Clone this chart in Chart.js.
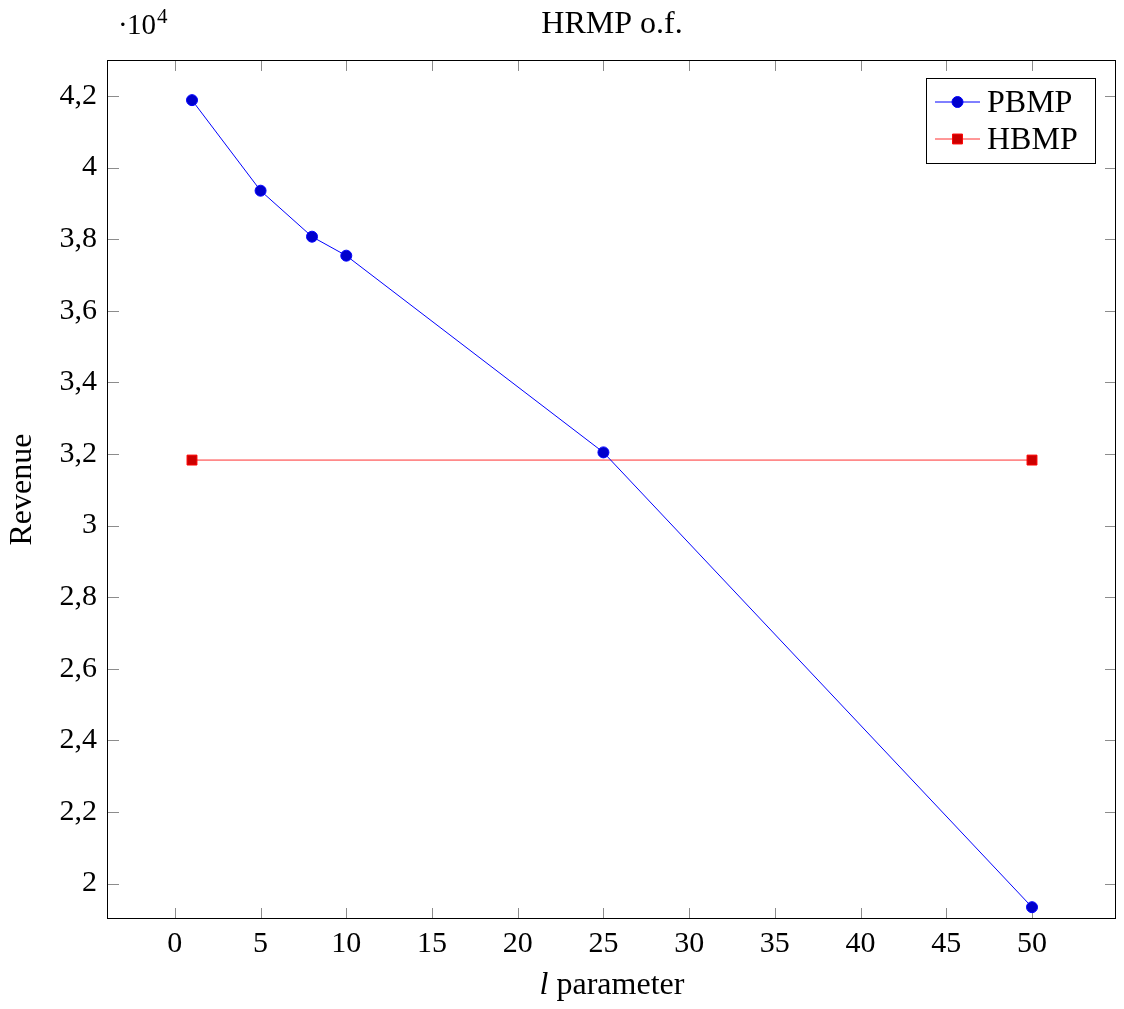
<!DOCTYPE html>
<html><head><meta charset="utf-8">
<script src="https://cdn.jsdelivr.net/npm/chart.js@4.4.1/dist/chart.umd.min.js"></script>
<style>html,body{margin:0;padding:0;background:#fff;overflow:hidden;} #wrap{width:1124px;height:1009px;position:relative;overflow:hidden;} canvas{display:block;}</style>
</head><body><div id="wrap"><canvas id="c"></canvas></div>
<script>
// ---- data ----
const lValues = [1, 5, 8, 10, 25, 50];
const pbmpRevenue = [41885, 39355, 38070, 37540, 32045, 19340];
const hbmpL = [1, 50];
const hbmpRevenue = [31830, 31830];
const xTickValues = [0, 5, 10, 15, 20, 25, 30, 35, 40, 45, 50];
const yTickValues = [20000, 22000, 24000, 26000, 28000, 30000, 32000, 34000, 36000, 38000, 40000, 42000];
const seriesNames = ['PBMP', 'HBMP'];
const chartTitle = 'HRMP o.f.';
const xTitleItalic = 'l';
const xTitleRest = ' parameter';
const yTitle = 'Revenue';
const multiplierBase = '10';
const multiplierExp = '4';

const SERIF = "'Liberation Serif', 'Times New Roman', serif";
Chart.defaults.font.family = SERIF;
Chart.defaults.color = '#000';

const fmtY = v => String(Number((v / 1e4).toFixed(1))).replace('.', ',');

const frameAndTicks = {
  id: 'frameAndTicks',
  beforeDatasetsDraw(chart) {
    const {ctx, chartArea: a, scales} = chart;
    const tl = 11;
    ctx.save();
    ctx.strokeStyle = '#8c8c8c';
    ctx.lineWidth = 1;
    ctx.beginPath();
    xTickValues.forEach(v => {
      const px = Math.round(scales.x.getPixelForValue(v)) + 0.5;
      ctx.moveTo(px, a.bottom); ctx.lineTo(px, a.bottom - tl);
      ctx.moveTo(px, a.top); ctx.lineTo(px, a.top + tl);
    });
    yTickValues.forEach(v => {
      const py = Math.round(scales.y.getPixelForValue(v)) + 0.5;
      ctx.moveTo(a.left, py); ctx.lineTo(a.left + tl, py);
      ctx.moveTo(a.right, py); ctx.lineTo(a.right - tl, py);
    });
    ctx.stroke();
    ctx.strokeStyle = '#000';
    ctx.strokeRect(a.left - 0.5, a.top + 0.5, a.width, a.height - 1);
    ctx.restore();
  },
  afterDraw(chart) {
    const {ctx, chartArea: a} = chart;
    ctx.save();
    ctx.fillStyle = '#000';
    ctx.textBaseline = 'alphabetic';
    // multiplier
    ctx.font = '29px ' + SERIF;
    ctx.textAlign = 'left';
    ctx.fillText('\u00B7', a.left + 10, 34);
    ctx.fillText(multiplierBase, a.left + 19, 34);
    ctx.font = '21px ' + SERIF;
    ctx.fillText(multiplierExp, a.left + 49, 23);
    // x title
    ctx.font = 'italic 32px ' + SERIF;
    const w1 = ctx.measureText(xTitleItalic).width;
    ctx.font = '32px ' + SERIF;
    const w2 = ctx.measureText(xTitleRest).width;
    const cx = (a.left + a.right) / 2;
    let x0 = cx - (w1 + w2) / 2;
    ctx.font = 'italic 32px ' + SERIF;
    ctx.fillText(xTitleItalic, x0, 994);
    ctx.font = '32px ' + SERIF;
    ctx.fillText(xTitleRest, x0 + w1, 994);
    // legend
    const ds = chart.data.datasets;
    const bx1 = a.right - 21, by0 = a.top + 18;
    const bw = 169, bh = 85;
    ctx.fillStyle = '#fff';
    ctx.fillRect(bx1 - bw, by0, bw, bh);
    ctx.strokeStyle = '#000';
    ctx.lineWidth = 1;
    ctx.strokeRect(Math.round(bx1 - bw) + 0.5, Math.round(by0) + 0.5, bw, bh);
    const rows = [{y: by0 + 24, base: by0 + 34}, {y: by0 + 61, base: by0 + 71}];
    ds.forEach((d, i) => {
      const r = rows[i];
      const lx0 = bx1 - bw + 9, lx1 = bx1 - bw + 54, mx = (lx0 + lx1) / 2;
      ctx.strokeStyle = d.borderColor;
      ctx.lineWidth = 1;
      ctx.beginPath(); ctx.moveTo(lx0, r.y); ctx.lineTo(lx1, r.y); ctx.stroke();
      ctx.fillStyle = d.pointBackgroundColor;
      ctx.strokeStyle = d.pointBorderColor;
      ctx.beginPath();
      if (d.pointStyle === 'rect') {
        const s = d.pointRadius * Math.SQRT1_2;
        ctx.rect(mx - s, r.y - s, 2 * s, 2 * s);
      } else {
        ctx.arc(mx, r.y, d.pointRadius, 0, Math.PI * 2);
      }
      ctx.fill(); ctx.stroke();
      ctx.fillStyle = '#000';
      ctx.font = '32px ' + SERIF;
      ctx.fillText(d.label, bx1 - bw + 61, r.base);
    });
    ctx.restore();
  }
};

new Chart(document.getElementById('c'), {
  type: 'scatter',
  data: {
    datasets: [
      {
        label: seriesNames[0],
        data: lValues.map((l, i) => ({x: l, y: pbmpRevenue[i]})),
        showLine: true,
        borderColor: '#0000ff',
        borderWidth: 1,
        pointStyle: 'circle',
        pointRadius: 5.5,
        pointBackgroundColor: '#0000cc',
        pointBorderColor: '#0000ff',
        pointBorderWidth: 1,
        tension: 0
      },
      {
        label: seriesNames[1],
        data: hbmpL.map((l, i) => ({x: l, y: hbmpRevenue[i]})),
        showLine: true,
        borderColor: '#ff3030',
        borderWidth: 1,
        pointStyle: 'rect',
        pointRadius: 7,
        pointBackgroundColor: '#cc0000',
        pointBorderColor: '#ff0000',
        pointBorderWidth: 1,
        tension: 0
      }
    ]
  },
  options: {
    responsive: true,
    maintainAspectRatio: false,
    animation: false,
    devicePixelRatio: 1,
    layout: {padding: {left: 0, right: 1, top: 0, bottom: 0}},
    plugins: {legend: {display: false}, title: {display: false}, tooltip: {enabled: false}},
    scales: {
      x: {
        type: 'linear', position: 'bottom', min: -3.9, max: 54.9,
        grid: {display: false, drawTicks: false}, border: {display: false},
        afterBuildTicks: s => { s.ticks = xTickValues.map(v => ({value: v})); },
        afterFit: s => { s.height = 90; },
        ticks: {padding: 7, font: {size: 30}, color: '#000', maxRotation: 0, autoSkip: false}
      },
      xTop: {
        type: 'linear', position: 'top', min: -3.9, max: 54.9,
        grid: {display: false, drawTicks: false}, border: {display: false},
        ticks: {display: false},
        afterFit: s => { s.height = 60; },
        title: {display: true, text: chartTitle, font: {size: 32}, color: '#000', padding: {top: 5, bottom: 0}}
      },
      y: {
        type: 'linear', position: 'left', min: 19010, max: 43006,
        grid: {display: false, drawTicks: false}, border: {display: false},
        afterBuildTicks: s => { s.ticks = yTickValues.map(v => ({value: v})); },
        afterFit: s => { s.width = 108; },
        ticks: {padding: 11, font: {size: 30}, color: '#000', callback: v => fmtY(v), autoSkip: false},
        title: {display: true, text: yTitle, font: {size: 32}, color: '#000', padding: {top: 3, bottom: 0}}
      }
    }
  },
  plugins: [frameAndTicks]
});
</script>
</body></html>
